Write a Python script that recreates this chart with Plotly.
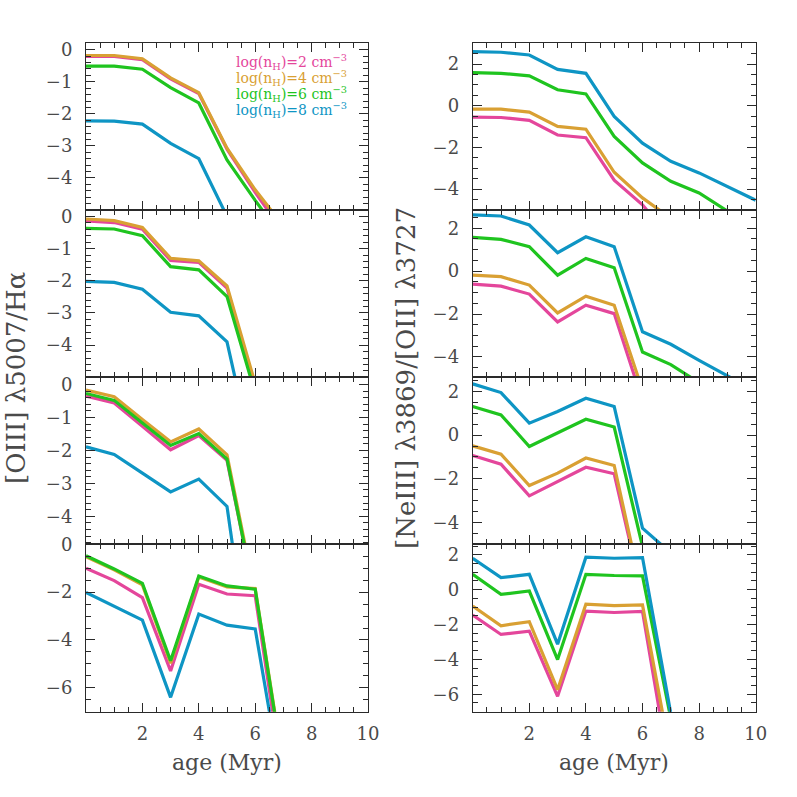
import plotly.graph_objects as go

ages = [0, 1, 2, 3, 4, 5, 6, 7, 8, 9, 10]
densities = ["2", "4", "6", "8"]
colors = ["#e4469b", "#d9a033", "#1fc41f", "#0e95c4"]

# [OIII]5007/Halpha panels (rows 1-4), series order: nH=2,4,6,8
oiii_r1 = [[-0.21, -0.21, -0.31, -0.91, -1.37, -3.10, -4.45, -5.7],
           [-0.18, -0.18, -0.28, -0.88, -1.34, -3.07, -4.37, -5.5],
           [-0.51, -0.51, -0.61, -1.18, -1.66, -3.44, -4.70, -5.9],
           [-2.22, -2.23, -2.32, -2.92, -3.40, -5.2]]
oiii_r2 = [[-0.14, -0.19, -0.40, -1.37, -1.43, -2.23, -5.3],
           [-0.08, -0.13, -0.34, -1.30, -1.38, -2.16, -5.2],
           [-0.37, -0.39, -0.60, -1.56, -1.66, -2.49, -5.5],
           [-2.02, -2.05, -2.26, -2.98, -3.09, -3.90, -7.8]]
oiii_r3 = [[-0.35, -0.56, -1.27, -1.98, -1.55, -2.30, -6.5],
           [-0.17, -0.37, -1.06, -1.74, -1.35, -2.13, -6.4],
           [-0.27, -0.48, -1.17, -1.85, -1.49, -2.26, -6.5],
           [-1.89, -2.12, -2.69, -3.26, -2.87, -3.70, -9.7]]
oiii_r4 = [[-1.00, -1.52, -2.23, -5.30, -1.67, -2.08, -2.15, -10.0],
           [-0.52, -1.07, -1.70, -4.97, -1.37, -1.78, -1.85, -9.3],
           [-0.48, -1.03, -1.63, -4.87, -1.33, -1.74, -1.88, -9.4],
           [-2.01, -2.58, -3.17, -6.40, -2.92, -3.38, -3.54, -10.4]]

# [NeIII]3869/[OII]3727 panels (rows 1-4)
neiii_r1 = [[-0.54, -0.56, -0.70, -1.40, -1.53, -3.57, -4.75, -6.4],
            [-0.16, -0.16, -0.30, -0.99, -1.12, -3.19, -4.42, -5.4],
            [1.59, 1.56, 1.44, 0.77, 0.57, -1.47, -2.74, -3.62, -4.18, -5.05],
            [2.60, 2.57, 2.44, 1.75, 1.56, -0.51, -1.79, -2.66, -3.22, -3.86, -4.53]]
neiii_r2 = [[-0.61, -0.70, -1.07, -2.37, -1.59, -1.98, -6.05],
            [-0.19, -0.26, -0.65, -1.95, -1.17, -1.59, -5.55],
            [1.57, 1.48, 1.14, -0.19, 0.59, 0.16, -3.77, -4.36, -5.2],
            [2.62, 2.57, 2.15, 0.86, 1.60, 1.14, -2.83, -3.41, -4.16, -4.90, -5.6]]
neiii_r3 = [[-0.93, -1.33, -2.78, -2.12, -1.47, -1.77, -7.4],
            [-0.49, -0.87, -2.31, -1.74, -1.05, -1.39, -7.3],
            [1.31, 0.93, -0.52, 0.09, 0.73, 0.37, -5.1],
            [2.35, 1.95, 0.55, 1.08, 1.69, 1.31, -4.26, -5.4]]
neiii_r4 = [[-1.46, -2.57, -2.38, -6.12, -1.23, -1.31, -1.25, -10.8],
            [-0.94, -2.07, -1.84, -5.74, -0.83, -0.92, -0.88, -9.6],
            [0.88, -0.27, -0.08, -4.01, 0.88, 0.81, 0.79, -7.4],
            [1.80, 0.69, 0.88, -3.13, 1.86, 1.80, 1.84, -7.1]]

x_ticks = [0, 2, 4, 6, 8, 10]
x_ticktext = ["", "2", "4", "6", "8", "10"]

panels = [
    # (data, col, row, yrange, yticks, yminor)
    (oiii_r1, 0, 0, [-5.0, 0.2], [0, -1, -2, -3, -4], 0.2),
    (oiii_r2, 0, 1, [-5.0, 0.2], [0, -1, -2, -3, -4], 0.2),
    (oiii_r3, 0, 2, [-4.85, 0.22], [0, -1, -2, -3, -4], 0.2),
    (oiii_r4, 0, 3, [-7.0, 0.0], [0, -2, -4, -6], 0.5),
    (neiii_r1, 1, 0, [-5.0, 3.0], [2, 0, -2, -4], 0.5),
    (neiii_r2, 1, 1, [-4.95, 2.85], [2, 0, -2, -4], 0.5),
    (neiii_r3, 1, 2, [-5.0, 2.65], [2, 0, -2, -4], 0.5),
    (neiii_r4, 1, 3, [-7.0, 2.6], [2, 0, -2, -4, -6], 0.5),
]

W = H = 797
col_px = [(86, 368), (472.7, 755.7)]
row_px = [(43.3, 210), (210, 377.3), (377.3, 544.3), (544.3, 711.7)]

txtcolor = "#4a4a4a"
tick_font = dict(family="DejaVu Serif", size=18, color=txtcolor)
axcolor = "#2a2a2a"

fig = go.Figure()
layout = {}
for i, (data, col, row, yr, yt, ymin) in enumerate(panels):
    n = i + 1
    xa = "xaxis" if n == 1 else f"xaxis{n}"
    ya = "yaxis" if n == 1 else f"yaxis{n}"
    xref = "x" if n == 1 else f"x{n}"
    yref = "y" if n == 1 else f"y{n}"
    x0, x1 = col_px[col]
    r0, r1 = row_px[row]
    layout[xa] = dict(
        domain=[x0 / W, x1 / W], range=[0, 10], anchor=yref, automargin=False,
        tickmode="array", tickvals=x_ticks,
        ticktext=x_ticktext if row == 3 else [""] * len(x_ticks),
        ticks="inside", ticklen=9, tickwidth=1.1, tickcolor=axcolor,
        minor=dict(dtick=0.5, tick0=0, ticks="inside", ticklen=5, tickwidth=1.1, tickcolor=axcolor),
        showline=True, linecolor=axcolor, linewidth=1, mirror="allticks",
        showgrid=False, zeroline=False, tickfont=tick_font, ticklabelstandoff=6,
    )
    layout[ya] = dict(
        domain=[1 - r1 / H, 1 - r0 / H], range=yr, anchor=xref, automargin=False,
        tickmode="array", tickvals=yt,
        ticks="inside", ticklen=9, tickwidth=1.1, tickcolor=axcolor,
        minor=dict(dtick=ymin, tick0=0, ticks="inside", ticklen=5, tickwidth=1.1, tickcolor=axcolor),
        showline=True, linecolor=axcolor, linewidth=1, mirror="allticks",
        showgrid=False, zeroline=False, tickfont=tick_font, ticklabelstandoff=9,
    )
    for s, vals in enumerate(data):
        fig.add_trace(go.Scatter(
            x=ages[:len(vals)], y=vals, mode="lines",
            line=dict(color=colors[s], width=3.2),
            xaxis=xref, yaxis=yref, showlegend=False, hoverinfo="skip",
        ))

title_font = dict(family="DejaVu Serif", size=22, color=txtcolor)
ytitle_font = dict(family="DejaVu Serif", size=26, color=txtcolor)
annotations = [
    dict(text="age (Myr)", x=(86 + 368) / 2 / W, y=1 - 762 / H, xref="paper", yref="paper",
         showarrow=False, font=title_font, xanchor="center", yanchor="middle"),
    dict(text="age (Myr)", x=(472.7 + 755.7) / 2 / W, y=1 - 762 / H, xref="paper", yref="paper",
         showarrow=False, font=title_font, xanchor="center", yanchor="middle"),
    dict(text="[OIII] λ5007/Hα", x=16 / W, y=1 - 378 / H, xref="paper", yref="paper",
         showarrow=False, font=ytitle_font, textangle=-90, xanchor="center", yanchor="middle"),
    dict(text="[NeIII] λ3869/[OII] λ3727", x=406 / W, y=1 - 378 / H, xref="paper", yref="paper",
         showarrow=False, font=ytitle_font, textangle=-90, xanchor="center", yanchor="middle"),
]
for s, d in enumerate(densities):
    annotations.append(dict(
        text=f"log(n<sub>H</sub>)={d} cm<sup>−3</sup>",
        x=349 / W, y=1 - (62 + 16 * s) / H, xref="paper", yref="paper",
        showarrow=False, xanchor="right", yanchor="middle",
        font=dict(family="DejaVu Serif", size=14, color=colors[s]),
    ))

fig.update_layout(
    template="none",
    width=W, height=H, margin=dict(l=0, r=0, t=0, b=0, autoexpand=False),
    paper_bgcolor="white", plot_bgcolor="white",
    showlegend=False, annotations=annotations, **layout,
)
fig.write_html("out.html", config={"displayModeBar": False},
               post_script="document.body.style.margin='0';document.body.style.padding='0';")
